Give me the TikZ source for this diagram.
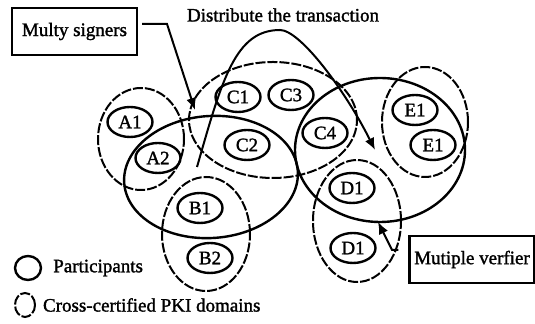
\documentclass[tikz,border=0pt]{standalone}
\usepackage{fontspec}
\setmainfont{Liberation Serif}[UprightFeatures={FakeBold=1.5}]
\usetikzlibrary{positioning,arrows.meta,shapes.geometric}
\tikzset{
  participant/.style={ellipse, draw, line width=1.2pt, minimum width=22.5pt, minimum height=15pt, inner sep=0pt},
  pkidomain/.style={ellipse, draw, line width=1pt, dash pattern=on 5pt off 1pt, inner sep=0pt},
  group/.style={ellipse, draw, line width=1.2pt, inner sep=0pt},
  labelbox/.style={rectangle, draw, line width=1.2pt, minimum width=62.5pt, minimum height=23.5pt, inner sep=2pt},
  pointer/.style={-{Latex[length=6pt,width=5pt]}, line width=1pt},
}

\begin{document}
\begin{tikzpicture}[x=0.5pt, y=-0.5pt, font=\fontsize{9.5}{11}\selectfont]
  \useasboundingbox (0,0) rectangle (535,324);

  % cross-certified PKI domains and signer / verifier groups
  \node[pkidomain, minimum width=43pt, minimum height=51pt] (domA) at (141,139) {};
  \node[pkidomain, minimum width=84pt, minimum height=58pt] (domC) at (273,120) {};
  \node[pkidomain, minimum width=44pt, minimum height=57pt] (domB) at (206,234) {};
  \node[pkidomain, minimum width=44pt, minimum height=61pt] (domD) at (357,221) {};
  \node[pkidomain, minimum width=43pt, minimum height=55pt] (domE) at (425,122) {};
  \node[group, minimum width=87pt, minimum height=61pt, rotate=4] (signers) at (211,177) {};
  \node[group, minimum width=85pt, minimum height=72pt] (verifiers) at (380,150) {};

  % participants
  \node[participant] (a1) at (130,122) {A1};
  \node[participant] (a2) at (158,158) {A2};
  \node[participant] (c1) at (238,97) {C1};
  \node[participant] (c3) at (291,95) {C3};
  \node[participant] (c2) at (247,145) {C2};
  \node[participant] (c4) at (325,133) {C4};
  \node[participant] (b1) at (200,208) {B1};
  \node[participant] (b2) at (210,258) {B2};
  \node[participant] (d1) at (352,188) {D1};
  \node[participant] (d2) at (353,248) {D1};
  \node[participant] (e1) at (415,110) {E1};
  \node[participant] (e2) at (433,145) {E1};

  % labels and pointers
  \node[labelbox] (msign) at (74.5,31.5) {Multy signers};
  \node[labelbox] (mverf) at (472,259.5) {Mutiple verfier};
  \node (distlabel) at (283,15) {Distribute the transaction};

  \coordinate (sigbend) at (167,24);
  \coordinate (sigtip) at (195,110);
  \draw[pointer] ([xshift=2pt]msign.east |- sigbend) -- (sigbend) -- (sigtip);

  \coordinate (verbend) at (392,250);
  \coordinate (vertip) at (378,222);
  \draw[pointer] ([xshift=-5pt]mverf.west |- verbend) -- (verbend) -- (vertip);

  \coordinate (diststart) at (197,167);
  \coordinate (distpeak) at (280,30);
  \coordinate (disttip) at (375,150);
  \draw[pointer] (diststart) .. controls (222,80) and (235,30) .. (distpeak)
                 .. controls (300,30) and (345,90) .. (disttip);

  % legend
  \node[ellipse, draw, line width=1.2pt, minimum width=13pt, minimum height=12pt, inner sep=0pt] (legpart) at (28,268) {};
  \node[right=2pt of legpart] (legparttext) {Participants};
  \node[pkidomain, minimum width=10pt, minimum height=12pt] (legpki) at (25,305) {};
  \node[right=0pt of legpki] (legpkitext) {Cross-certified PKI domains};
\end{tikzpicture}
\end{document}
